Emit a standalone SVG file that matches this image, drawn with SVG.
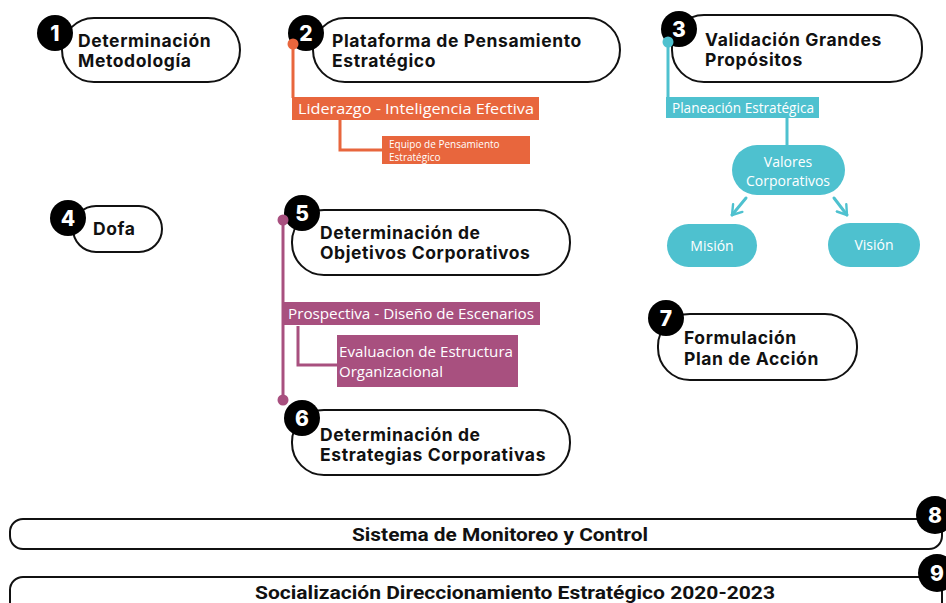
<svg xmlns="http://www.w3.org/2000/svg" width="946" height="603" viewBox="0 0 946 603">
<defs>
<style>
.pill{fill:#fff;stroke:#111;stroke-width:2}
.num{fill:#000}
.numt{fill:#fff;font-family:Inter,"Liberation Sans",sans-serif;font-weight:800;font-size:21px;text-anchor:middle}
.t{fill:#111;font-family:Inter,"Liberation Sans",sans-serif;font-weight:700;font-size:17.5px;letter-spacing:0.6px}
.lbl{fill:#fff;font-family:"Open Sans","Noto Sans",sans-serif;font-size:14.5px}
.sm{fill:#fff;font-family:"Open Sans","Noto Sans",sans-serif;font-size:10px}
.or{fill:#E8663D}
.cy{fill:#4EC1CF}
.pk{fill:#A8507F}
.bt{fill:#111;font-family:Roboto,"Liberation Sans",sans-serif;font-weight:700;font-size:19px;text-anchor:middle}
.ct{fill:#fff;font-family:"Open Sans","Noto Sans",sans-serif;font-size:14px;text-anchor:middle}
</style>
<marker id="chev" viewBox="0 0 10 10" refX="7" refY="5" markerWidth="5" markerHeight="5" orient="auto" markerUnits="strokeWidth">
<path d="M1,1 L7,5 L1,9" fill="none" stroke="#4EC1CF" stroke-width="1.6" stroke-linecap="round" stroke-linejoin="round"/>
</marker>
</defs>
<rect width="946" height="603" fill="#fff"/>

<g id="connectors">
<line x1="293" y1="44" x2="293" y2="98" stroke="#E8663D" stroke-width="3"/>
<polyline points="340,119 340,150 383,150" fill="none" stroke="#E8663D" stroke-width="3"/>
<line x1="668" y1="42" x2="668" y2="98" stroke="#4EC1CF" stroke-width="3"/>
<line x1="787" y1="118" x2="787" y2="146" stroke="#4EC1CF" stroke-width="3"/>
<line x1="746" y1="198" x2="732" y2="215" stroke="#4EC1CF" stroke-width="3" stroke-linecap="round" marker-end="url(#chev)"/>
<line x1="834" y1="198" x2="847" y2="215" stroke="#4EC1CF" stroke-width="3" stroke-linecap="round" marker-end="url(#chev)"/>
<line x1="283" y1="220" x2="283" y2="400" stroke="#A8507F" stroke-width="3"/>
<polyline points="298,326 298,365 338,365" fill="none" stroke="#A8507F" stroke-width="3"/>
</g>

<g id="node1">
<rect class="pill" x="62" y="18" width="178" height="64" rx="32"/>
<circle class="num" cx="55" cy="33" r="18"/>
<text class="numt" x="55" y="40.5">1</text>
<text class="t" x="78" y="47">Determinación</text>
<text class="t" x="78" y="67">Metodología</text>
</g>

<g id="node2">
<rect class="pill" x="313" y="18" width="307" height="64" rx="32"/>
<circle class="num" cx="306" cy="33" r="18"/>
<text class="numt" x="306" y="40.5">2</text>
<text class="t" x="332" y="47">Plataforma de Pensamiento</text>
<text class="t" x="332" y="67">Estratégico</text>
<circle class="or" cx="293" cy="44" r="5.5"/>
</g>

<g id="liderazgo">
<rect class="or" x="292" y="97" width="247" height="23"/>
<text class="lbl" x="298" y="114" textLength="236" lengthAdjust="spacingAndGlyphs">Liderazgo - Inteligencia Efectiva</text>
</g>

<g id="equipo">
<rect class="or" x="382" y="136" width="148" height="28"/>
<text class="sm" x="389" y="148">Equipo de Pensamiento</text>
<text class="sm" x="389" y="160.5">Estratégico</text>
</g>

<g id="node3">
<rect class="pill" x="672" y="15" width="250" height="67" rx="32"/>
<circle class="num" cx="679" cy="29" r="18"/>
<text class="numt" x="679" y="36.5">3</text>
<text class="t" x="705" y="46">Validación Grandes</text>
<text class="t" x="705" y="66">Propósitos</text>
<circle class="cy" cx="668" cy="42" r="5.5"/>
</g>

<g id="planeacion">
<rect class="cy" x="666" y="97" width="153" height="21"/>
<text class="lbl" x="672" y="113" textLength="142" lengthAdjust="spacingAndGlyphs">Planeación Estratégica</text>
</g>

<g id="valores">
<rect class="cy" x="732" y="145" width="113" height="50" rx="25"/>
<text class="ct" x="788" y="167">Valores</text>
<text class="ct" x="788" y="186">Corporativos</text>
</g>

<g id="mision">
<rect class="cy" x="667" y="224" width="90" height="43" rx="21.5"/>
<text class="ct" x="712" y="251">Misión</text>
</g>

<g id="vision">
<rect class="cy" x="828" y="223" width="92" height="44" rx="22"/>
<text class="ct" x="874" y="250">Visión</text>
</g>

<g id="node4">
<rect class="pill" x="73" y="206" width="89" height="46" rx="23"/>
<circle class="num" cx="68" cy="218" r="18"/>
<text class="numt" x="68" y="225.5">4</text>
<text class="t" x="93" y="235">Dofa</text>
</g>

<g id="node5">
<rect class="pill" x="292" y="210" width="278" height="65" rx="32"/>
<circle class="num" cx="302" cy="213" r="18"/>
<text class="numt" x="302" y="220.5">5</text>
<text class="t" x="320" y="239">Determinación de</text>
<text class="t" x="320" y="259">Objetivos Corporativos</text>
<circle class="pk" cx="283" cy="220" r="5.5"/>
</g>

<g id="prospectiva">
<rect class="pk" x="283" y="302" width="257" height="23"/>
<text class="lbl" x="288" y="319" textLength="246" lengthAdjust="spacingAndGlyphs">Prospectiva - Diseño de Escenarios</text>
</g>

<g id="evaluacion">
<rect class="pk" x="337" y="335" width="181" height="52"/>
<text class="lbl" x="339" y="357" textLength="174" lengthAdjust="spacingAndGlyphs">Evaluacion de Estructura</text>
<text class="lbl" x="339" y="377" textLength="104" lengthAdjust="spacingAndGlyphs">Organizacional</text>
</g>

<g id="node6">
<rect class="pill" x="292" y="410" width="278" height="65" rx="32"/>
<circle class="pk" cx="283" cy="400" r="5.5"/>
<circle class="num" cx="302" cy="418" r="18"/>
<text class="numt" x="302" y="425.5">6</text>
<text class="t" x="320" y="441">Determinación de</text>
<text class="t" x="320" y="461">Estrategias Corporativas</text>
</g>

<g id="node7">
<rect class="pill" x="658" y="314" width="199" height="66" rx="32"/>
<circle class="num" cx="666" cy="318" r="18"/>
<text class="numt" x="666" y="325.5">7</text>
<text class="t" x="684" y="344">Formulación</text>
<text class="t" x="684" y="365">Plan de Acción</text>
</g>

<g id="node8">
<rect class="pill" x="10" y="519" width="932" height="30" rx="13"/>
<circle class="num" cx="935" cy="515" r="19"/>
<text class="numt" x="935" y="522.5">8</text>
<text class="bt" x="500" y="541" textLength="296" lengthAdjust="spacingAndGlyphs">Sistema de Monitoreo y Control</text>
</g>

<g id="node9">
<rect class="pill" x="10" y="577" width="932" height="44" rx="13"/>
<circle class="num" cx="937" cy="573" r="19"/>
<text class="numt" x="937" y="580.5">9</text>
<text class="bt" x="515" y="599" textLength="520" lengthAdjust="spacingAndGlyphs">Socialización Direccionamiento Estratégico 2020-2023</text>
</g>
</svg>
